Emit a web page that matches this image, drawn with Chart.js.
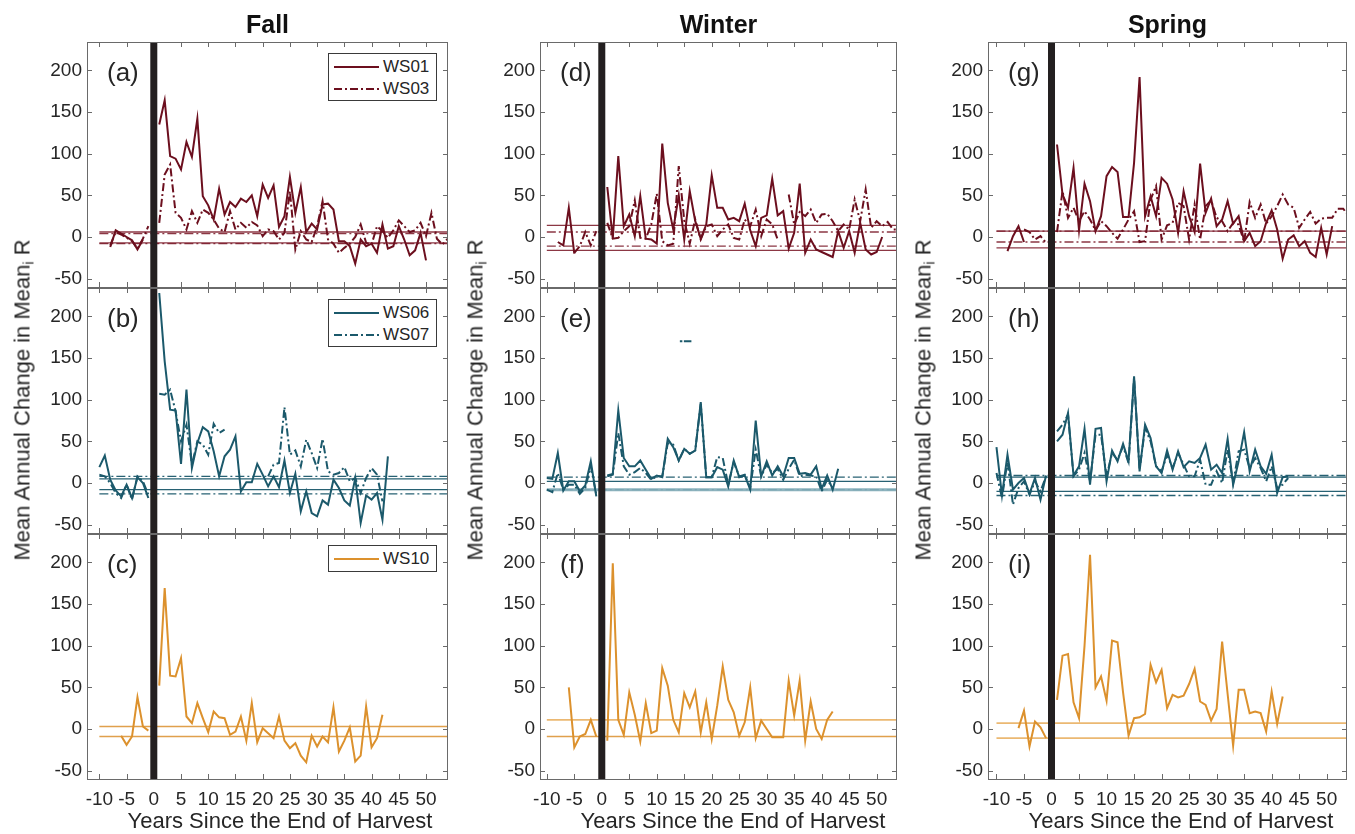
<!DOCTYPE html>
<html><head><meta charset="utf-8">
<script src="https://cdn.jsdelivr.net/npm/chart.js@4.4.0/dist/chart.umd.min.js"></script>
<style>
html,body{margin:0;padding:0;background:#fff;}
#fig{position:relative;width:1355px;height:834px;overflow:hidden;background:#fff;font-family:"Liberation Sans",Arial,Helvetica,sans-serif;color:#262626;}
#fig canvas{position:absolute;}
.title{position:absolute;font-weight:bold;font-size:25px;transform:translate(-50%,-50%);white-space:nowrap;color:#111;}
.ylab{position:absolute;font-size:22px;white-space:nowrap;transform:translate(-50%,-50%) rotate(-90deg);}
.ylab sub{font-size:14px;vertical-align:-4px;}
.xlab{position:absolute;font-size:22px;white-space:nowrap;transform:translate(-50%,-50%);}
.plab{position:absolute;font-size:26px;transform:translateY(-50%);white-space:nowrap;}
.legend{position:absolute;background:#fff;border:1px solid #3a3a3a;box-sizing:border-box;}
.legend .row{position:absolute;left:0;height:20px;transform:translateY(-50%);}
.legend svg{position:absolute;left:5px;top:4px;}
.legend span{position:absolute;left:54px;top:0;font-size:17px;line-height:20px;}
</style>
</head>
<body>
<div id="fig"></div>
<script>
// ---------- axis values ----------
const xTickValues = [-10, -5, 0, 5, 10, 15, 20, 25, 30, 35, 40, 45, 50];
const yTickValues = [-50, 0, 50, 100, 150, 200];
const yRange = [-60, 234];
const preYears = [-10, -9, -8, -7, -6, -5, -4, -3, -2, -1];
const postYears = [1, 2, 3, 4, 5, 6, 7, 8, 9, 10, 11, 12, 13, 14, 15, 16, 17, 18, 19, 20, 21, 22, 23, 24, 25, 26, 27, 28, 29, 30, 31, 32, 33, 34, 35, 36, 37, 38, 39, 40, 41, 42, 43, 44, 45, 46, 47, 48, 49, 50, 51, 52, 53, 54];
const boundYears = [-10, 54];
const harvestYear = 0;

// ---------- Fall ----------
const fallWS01Pre = [null, null, -12, 8, 4, 0, -4, -15, -3, null];
const fallWS03Pre = [null, null, -10, 6, 3, -1, -5, -14, -2, 13];
const fallWS01Post = [135, 164, 97, 94, 81, 114, 96, 142, 49, 38, 21, 58, 27, 42, 36, 46, 42, 50, 25, 63, 47, 62, 12, 25, 72, 29, 60, 6, 16, 9, 39, 40, 33, -5, -5, -11, -32, -3, -11, -8, -19, 15, -14, -11, 13, -3, -22, -16, 5, -28];
const fallWS03Post = [17, 75, 87, 29, 23, 9, 31, 17, 33, 29, 21, 10, 6, 31, 9, 17, 11, 18, 14, 1, 9, 7, -3, 5, 55, -15, 7, -3, -6, 13, 43, -3, -8, -19, -13, -8, 0, 15, -7, -9, 13, 7, -1, 8, 20, 13, 6, 8, 17, 1, 29, -2, -9, -2];
const fallWS01Bounds = [6, -7];
const fallWS03Bounds = [4, -8];

const fallWS06Pre = [19, 33, 4, -9, -16, -2, -18, 7, 0, -18];
const fallWS07Pre = [10, 8, 0, -12, -18, -2, -20, 8, 2, -14];
const fallWS06Post = [228, 146, 88, 87, 23, 112, 18, 48, 67, 62, 38, 8, 32, 40, 56, -10, 1, 1, 23, 10, -4, 8, -5, 27, -12, 11, -34, -10, -36, -40, -21, -26, 4, -6, -21, -27, 6, -48, -15, -20, -12, -44, 32];
const fallWS07Post = [107, 106, 112, 86, 50, 70, 22, 50, 46, 34, 71, 60, 64, null, null, null, null, null, null, null, 8, 22, 24, 91, 34, 39, 20, 52, 36, 18, 53, 14, 10, 12, 19, 2, 6, -12, 6, 18, 10, -22];
const fallWS06Bounds = [5, -8];
const fallWS07Bounds = [8, -13];

const fallWS10Pre = [null, null, null, null, -8, -19, -9, 38, 3, -2];
const fallWS10Post = [52, 169, 64, 63, 85, 15, 7, 31, 13, -4, 21, 14, 13, -7, -3, 15, -14, 31, -16, 1, -5, -11, 15, -14, -23, -17, -32, -40, -8, -21, -9, -16, 26, -27, -14, 2, -39, -32, 27, -22, -11, 17];
const fallWS10Bounds = [3, -9];

// ---------- Winter ----------
const winterWS01Pre = [null, null, -6, -10, 35, -20, null, null, null, null];
const winterWS03Pre = [null, null, null, null, null, -19, -11, 6, -10, 7];
const winterWS01Post = [60, -2, 97, 13, 27, 1, 49, -2, -3, -8, 112, 41, 9, 50, -3, 55, 19, -2, 15, 74, 35, 35, 21, 23, 19, 40, 8, -11, 23, 26, 70, 26, 31, -14, 5, 64, -19, -3, -15, -18, -21, -24, 7, -13, 7, -19, 17, -15, -21, -18, 0];
const winterWS03Post = [17, -2, -1, 7, 13, 44, -1, -2, 15, 52, -5, -10, -8, 85, 20, -8, 21, -3, 13, 15, 1, 9, 15, -1, -3, 21, 13, 33, 1, 21, 15, -3, null, 51, 15, 30, 25, 33, 17, 27, 28, 19, 7, 15, 9, 45, 19, 57, 11, 19, 13, 18, 9, 9];
const winterWS01Bounds = [14, -16];
const winterWS03Bounds = [6, -11];

const winterWS06Pre = [6, 5, 36, -9, 2, 2, -10, -3, 26, -16];
const winterWS07Pre = [-8, -11, 12, -8, -2, -2, -13, -6, 20, -14];
const winterWS06Post = [9, 11, 87, 30, 20, 20, 27, 16, 5, 9, 7, 53, 43, 27, 41, 35, 39, 97, 7, 7, 19, 16, -4, 27, 7, 9, -8, 75, 8, 26, 9, 20, 8, 30, 30, 11, 12, 10, 20, -7, 9, -8, 17];
const winterWS07Post = [8, 10, 60, 20, 10, 13, 18, 12, 4, 8, 8, 48, 46, 27, 41, 35, 39, 95, 7, 7, 31, 30, -2, 25, 8, 10, -6, 40, 8, 22, 12, 17, 4, 17, 28, 8, 10, 9, 8, -10, 4, -6];
const winterWS06Bounds = [2, -8];
const winterWS07Bounds = [7, -8];
const winterStrayMarkYears = [14.2, 16.3];
const winterStrayMarkValues = [170, 170];

const winterWS10Pre = [null, null, null, null, 50, -22, -9, -6, 11, -9];
const winterWS10Post = [-14, 199, 11, -7, 44, 17, -15, 31, -5, -2, 73, 52, 11, -4, 43, 26, 45, -4, 32, -12, 28, 75, 35, 20, -8, 8, 50, -11, 10, 0, -10, -10, -10, 58, 16, 58, -14, 33, 0, -12, 11, 21];
const winterWS10Bounds = [11, -9];

// ---------- Spring ----------
const springWS01Pre = [null, null, -17, 1, 13, -6, null, null, null, null];
const springWS03Pre = [null, null, null, null, null, 9, 6, -3, 1, -7];
const springWS01Post = [111, 51, 35, 83, 8, 64, 43, 7, 25, 73, 84, 78, 24, 24, 89, 192, 25, 49, 25, 71, 64, 45, 5, 55, 25, 6, 88, 29, 46, 13, 21, 43, 16, 25, -5, 5, -11, -5, 17, 32, 9, -26, -3, 2, -11, -5, -19, -24, 11, -21, 13];
const springWS03Post = [6, 55, 23, 35, 19, 31, 21, 8, 19, 13, 5, -2, 9, 21, 31, -6, -5, 45, 61, -3, 14, 17, 41, 37, -3, 39, -3, 37, 44, 23, 19, 7, 17, 15, -6, 42, 23, 39, 16, 25, 37, 51, 39, 35, 11, 21, 30, 16, 22, 23, 23, 34, 34, 25];
const springWS01Bounds = [7, -13];
const springWS03Bounds = [7, -6];

const springWS06Pre = [43, -15, 34, -8, 0, 6, -13, 6, -20, 9];
const springWS07Pre = [12, -18, 26, -26, -6, 2, -14, 2, -10, 8];
const springWS06Post = [50, 58, 84, 9, 20, 65, -2, 65, 66, 2, 39, 26, 47, 26, 128, 14, 70, 54, 20, 12, 39, 16, 38, 19, 26, 24, 30, 46, 16, 22, 12, 53, -2, 26, 61, 14, 40, 20, 11, 34, -12, 7, 8];
const springWS07Post = [62, 70, 82, 8, 16, 36, 2, 58, 58, 8, 36, 28, 44, 24, 126, 16, 66, 50, 20, 14, 34, 18, 36, 22, 8, 8, 28, -2, -2, 14, 0, 40, 0, 38, 40, 18, 30, 18, 2, 20, -6, -2, 6];
const springWS06Bounds = [7, -10];
const springWS07Bounds = [9, -15];

const springWS10Pre = [null, null, null, null, 1, 22, -21, 9, 2, -11];
const springWS10Post = [35, 88, 90, 32, 13, 100, 209, 50, 63, 34, 106, 104, 44, -8, 13, 14, 18, 77, 56, 71, 25, 41, 38, 40, 54, 72, 33, 29, 10, 24, 105, 42, -20, 47, 47, 19, 21, 19, -3, 45, 6, 39];
const springWS10Bounds = [7, -11];

// ---------- text ----------
const seasonTitles = ['Fall', 'Winter', 'Spring'];
const panelTags = [['(a)', '(b)', '(c)'], ['(d)', '(e)', '(f)'], ['(g)', '(h)', '(i)']];
const xTitle = 'Years Since the End of Harvest';
const yTitleHTML = 'Mean Annual Change in Mean<sub>i</sub> R';

// ---------- styles / layout ----------
const MAROON = '#6c0f1e', MAROON_B = 'rgba(120,20,35,0.85)';
const TEAL = '#1b596b', TEAL_B = 'rgba(27,89,107,0.95)', TEAL_L = 'rgba(120,165,178,0.85)';
const ORANGE = '#dc912d', ORANGE_B = '#e0a04c', ORANGE_L = '#ebb872';
const BAR = '#231f20';
const DASHDOT = [8, 3, 2, 3];
const FONT = "'Liberation Sans', Arial, Helvetica, sans-serif";

const colLeft = [87, 540, 988];
const colWidth = [361, 357, 359];
const colXRange = [[-12.27, 54.04], [-11.24, 53.7], [-11.54, 53.69]];
const rowTop = [42, 288, 534];
const rowHeight = 245;

const fig = document.getElementById('fig');

function seriesData(pre, post) {
  const d = [];
  preYears.forEach((yr, i) => { if (i < pre.length) d.push({x: yr, y: pre[i]}); });
  d.push({x: harvestYear, y: null});
  postYears.forEach((yr, i) => { if (i < post.length) d.push({x: yr, y: post[i]}); });
  return d;
}

const frameTicks = {
  id: 'frameTicks',
  afterDatasetsDraw(chart) {
    const {ctx, chartArea: a, scales: {x, y}} = chart;
    ctx.save();
    ctx.strokeStyle = '#6a6a6a';
    ctx.lineWidth = 1;
    ctx.beginPath();
    const tl = 5;
    xTickValues.forEach(v => {
      if (v === harvestYear) return;
      const px = Math.round(x.getPixelForValue(v)) + 0.5;
      if (px < a.left || px > a.right) return;
      ctx.moveTo(px, a.bottom); ctx.lineTo(px, a.bottom - tl);
      ctx.moveTo(px, a.top); ctx.lineTo(px, a.top + tl);
    });
    yTickValues.forEach(v => {
      const py = Math.round(y.getPixelForValue(v)) + 0.5;
      ctx.moveTo(a.left, py); ctx.lineTo(a.left + tl, py);
      ctx.moveTo(a.right, py); ctx.lineTo(a.right - tl, py);
    });
    ctx.stroke();
    ctx.strokeRect(Math.round(a.left) + 0.5, Math.round(a.top) + 0.5, Math.round(a.width) - 1, Math.round(a.height));
    ctx.restore();
  }
};

function lineDs(pre, post, color, dashed) {
  return {type: 'line', data: seriesData(pre, post), borderColor: color, borderWidth: 2, borderDash: dashed ? DASHDOT : [],
          pointRadius: 0, tension: 0, spanGaps: false, fill: false};
}
function boundDs(value, color, dashed, width) {
  return {type: 'line', data: boundYears.map(x => ({x, y: value})), borderColor: color, borderWidth: width,
          borderDash: dashed ? [9, 3, 2, 3] : [], pointRadius: 0, tension: 0, fill: false};
}

const panels = [
  {col: 0, row: 0, lines: [[fallWS01Pre, fallWS01Post, MAROON, false], [fallWS03Pre, fallWS03Post, MAROON, true]],
   bounds: [[fallWS01Bounds[0], MAROON_B, false, 1.3], [fallWS01Bounds[1], MAROON_B, false, 1.3], [fallWS03Bounds[0], MAROON_B, true, 1.3], [fallWS03Bounds[1], MAROON_B, true, 1.3]]},
  {col: 0, row: 1, lines: [[fallWS06Pre, fallWS06Post, TEAL, false], [fallWS07Pre, fallWS07Post, TEAL, true]],
   bounds: [[fallWS06Bounds[0], TEAL_B, false, 1.3], [fallWS06Bounds[1], TEAL_B, false, 1.3], [fallWS07Bounds[0], TEAL_B, true, 1.3], [fallWS07Bounds[1], TEAL_B, true, 1.3]]},
  {col: 0, row: 2, lines: [[fallWS10Pre, fallWS10Post, ORANGE, false]],
   bounds: [[fallWS10Bounds[0], ORANGE_B, false, 1.4], [fallWS10Bounds[1], ORANGE_B, false, 1.4]]},
  {col: 1, row: 0, lines: [[winterWS01Pre, winterWS01Post, MAROON, false], [winterWS03Pre, winterWS03Post, MAROON, true]],
   bounds: [[winterWS01Bounds[0], MAROON_B, false, 1.3], [winterWS01Bounds[1], MAROON_B, false, 1.3], [winterWS03Bounds[0], MAROON_B, true, 1.3], [winterWS03Bounds[1], MAROON_B, true, 1.3]]},
  {col: 1, row: 1, lines: [[winterWS06Pre, winterWS06Post, TEAL, false], [winterWS07Pre, winterWS07Post, TEAL, true]],
   bounds: [[winterWS06Bounds[0], TEAL_B, false, 1.3], [winterWS06Bounds[1], TEAL_L, false, 3], [winterWS07Bounds[0], TEAL_B, true, 1.3], [winterWS07Bounds[1], TEAL_L, true, 1.3]],
   extra: {type: 'line', data: winterStrayMarkYears.map((x, i) => ({x, y: winterStrayMarkValues[i]})), borderColor: TEAL, borderWidth: 2, borderDash: [2.5, 1.5, 8, 0], pointRadius: 0}},
  {col: 1, row: 2, lines: [[winterWS10Pre, winterWS10Post, ORANGE, false]],
   bounds: [[winterWS10Bounds[0], ORANGE_L, false, 1.8], [winterWS10Bounds[1], ORANGE_B, false, 1.4]]},
  {col: 2, row: 0, lines: [[springWS01Pre, springWS01Post, MAROON, false], [springWS03Pre, springWS03Post, MAROON, true]],
   bounds: [[springWS01Bounds[0], MAROON_B, false, 1.3], [springWS01Bounds[1], MAROON_B, false, 1.3], [springWS03Bounds[0], MAROON_B, true, 1.3], [springWS03Bounds[1], MAROON_B, true, 1.3]]},
  {col: 2, row: 1, lines: [[springWS06Pre, springWS06Post, TEAL, false], [springWS07Pre, springWS07Post, TEAL, true]],
   bounds: [[springWS06Bounds[0], TEAL_B, false, 1.3], [springWS06Bounds[1], TEAL_B, false, 1.3], [springWS07Bounds[0], TEAL_B, true, 1.3], [springWS07Bounds[1], TEAL_B, true, 1.3]]},
  {col: 2, row: 2, lines: [[springWS10Pre, springWS10Post, ORANGE, false]],
   bounds: [[springWS10Bounds[0], ORANGE_L, false, 1.8], [springWS10Bounds[1], ORANGE_L, false, 1.8]]}
];

const L = 72, T = 25, R = 20, B = 45;

panels.forEach(p => {
  const W = colWidth[p.col], H = rowHeight;
  const cv = document.createElement('canvas');
  cv.width = L + W + R; cv.height = T + H + B;
  cv.style.left = (colLeft[p.col] - L) + 'px';
  cv.style.top = (rowTop[p.row] - T) + 'px';
  cv.style.width = cv.width + 'px'; cv.style.height = cv.height + 'px';
  fig.appendChild(cv);
  const isBottom = p.row === 2;
  const datasets = [];
  datasets.push({type: 'bar', data: [{x: harvestYear, y: [yRange[0], yRange[1]]}], backgroundColor: BAR,
                 borderColor: BAR, borderWidth: 0, barThickness: 7, grouped: false, inflateAmount: 0, borderSkipped: false});
  if (p.extra) datasets.push(p.extra);
  p.lines.forEach(l => datasets.push(lineDs(l[0], l[1], l[2], l[3])));
  p.bounds.forEach(b => datasets.push(boundDs(b[0], b[1], b[2], b[3])));
  const tickFont = {family: FONT, size: 19};
  new Chart(cv, {
    type: 'line',
    data: {datasets},
    options: {
      responsive: false, animation: false, events: [], devicePixelRatio: 1,
      layout: {padding: {left: 0, right: R, top: T, bottom: isBottom ? 0 : B}},
      plugins: {legend: {display: false}, tooltip: {enabled: false}},
      scales: {
        x: {type: 'linear', min: colXRange[p.col][0], max: colXRange[p.col][1], display: isBottom, offset: false,
            grid: {display: false, drawTicks: false, offset: false}, border: {display: false},
            ticks: {font: tickFont, color: '#262626', padding: 9, maxRotation: 0, autoSkip: false},
            afterBuildTicks: s => { s.ticks = xTickValues.map(v => ({value: v})); },
            afterFit: s => { s.height = isBottom ? B : 0; }},
        y: {type: 'linear', min: yRange[0], max: yRange[1], beginAtZero: false,
            grid: {display: false, drawTicks: false}, border: {display: false},
            ticks: {font: tickFont, color: '#262626', padding: 5},
            afterBuildTicks: s => { s.ticks = yTickValues.map(v => ({value: v})); },
            afterFit: s => { s.width = L; }}
      }
    },
    plugins: [frameTicks]
  });
});

// ---------- HTML text ----------
function addDiv(cls, html, x, y) {
  const d = document.createElement('div');
  d.className = cls; d.innerHTML = html;
  d.style.left = x + 'px'; d.style.top = y + 'px';
  fig.appendChild(d);
  return d;
}
for (let c = 0; c < 3; c++) {
  const cx = colLeft[c] + colWidth[c] / 2;
  addDiv('title', seasonTitles[c], cx, 24);
  addDiv('ylab', yTitleHTML, colLeft[c] - 64, 400);
  addDiv('xlab', xTitle, colLeft[c] + 193, 821);
  for (let r = 0; r < 3; r++) addDiv('plab', panelTags[c][r], colLeft[c] + 20, rowTop[r] + 30);
}

function addLegend(top, height, entries) {
  const box = document.createElement('div');
  box.className = 'legend';
  box.style.left = '328px'; box.style.top = top + 'px';
  box.style.width = '109px'; box.style.height = height + 'px';
  entries.forEach((e, i) => {
    const row = document.createElement('div');
    row.className = 'row';
    row.style.top = (entries.length === 1 ? height / 2 - 1 : 13 + i * 22) + 'px';
    row.style.width = '109px';
    row.innerHTML = '<svg width="45" height="12"><line x1="0" y1="6" x2="45" y2="6" stroke="' + e.color +
      '" stroke-width="2"' + (e.dashed ? ' stroke-dasharray="8 3 2 3"' : '') + '/></svg><span>' + e.name + '</span>';
    box.appendChild(row);
  });
  fig.appendChild(box);
}
addLegend(53, 48, [{name: 'WS01', color: MAROON, dashed: false}, {name: 'WS03', color: MAROON, dashed: true}]);
addLegend(299, 48, [{name: 'WS06', color: TEAL, dashed: false}, {name: 'WS07', color: TEAL, dashed: true}]);
addLegend(545, 27, [{name: 'WS10', color: ORANGE, dashed: false}]);
</script>
</body></html>
